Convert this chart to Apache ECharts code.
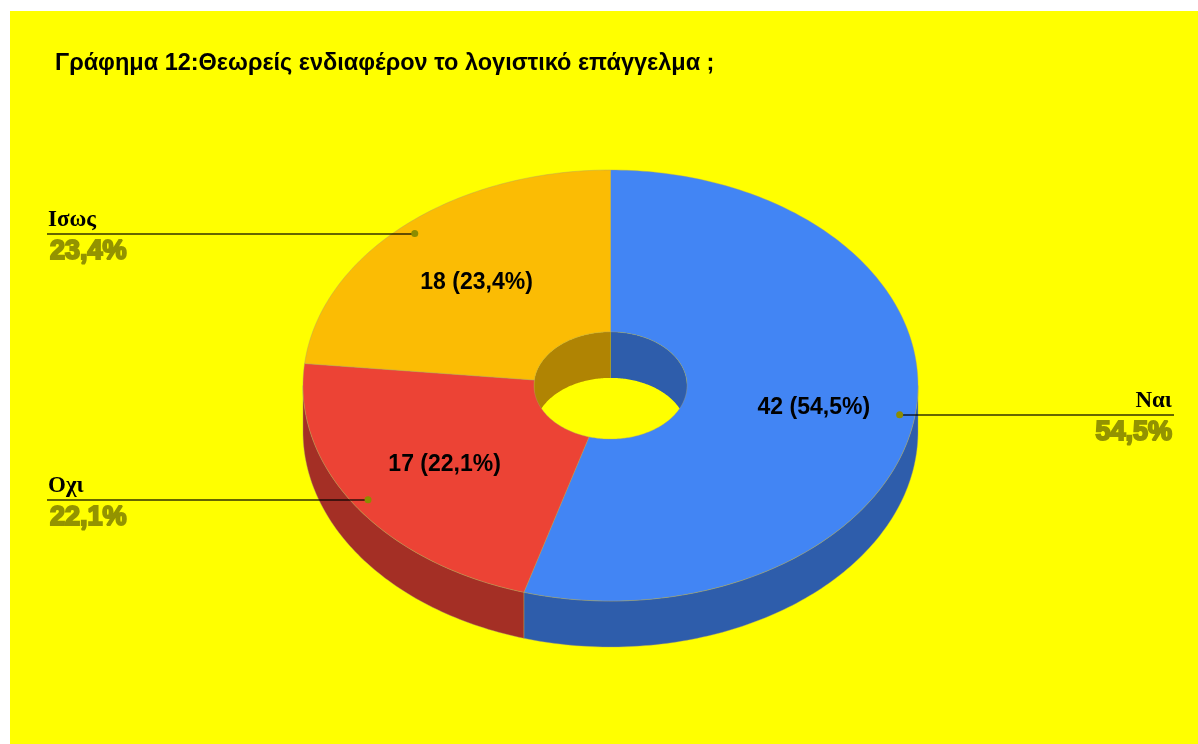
<!DOCTYPE html>
<html>
<head>
<meta charset="utf-8">
<style>html,body{margin:0;padding:0;background:#fff}#chart{width:1198px;height:744px}</style>
<script src="https://cdn.jsdelivr.net/npm/echarts@6/dist/echarts.min.js"></script>
</head>
<body>
<div id="chart"></div>
<script>
const titleText = 'Γράφημα 12:Θεωρείς ενδιαφέρον το λογιστικό επάγγελμα ;';
const categories = ['Ναι', 'Οχι', 'Ισως'];
const values = [42, 17, 18];
const percentLabels = ['54,5%', '22,1%', '23,4%'];

const topColors = ['#4285F4', '#EC4335', '#FBBC04'];
const sideColors = ['#2E5DAB', '#A42F25', '#B08403'];
const edge = 'rgba(170,160,110,0.4)';
const C = {cx: 610.5, cy: 385.5, rx: 307.5, ry: 215.5, depth: 46, hole: 0.2488};
const labelFrac = [0.668, 0.65, 0.65];
const dotFrac = 0.95;
const leaderEnd = [1174, 47, 47];
const total = values.reduce((a, b) => a + b, 0);
const starts = values.map((_, i) => values.slice(0, i).reduce((a, b) => a + b, 0) / total * 360);
const ends = values.map((_, i) => values.slice(0, i + 1).reduce((a, b) => a + b, 0) / total * 360);
const pt = (deg, f, dy) => {
  const a = deg * Math.PI / 180;
  return [C.cx + C.rx * f * Math.sin(a), C.cy - C.ry * f * Math.cos(a) + (dy || 0)];
};
const arc = (a0, a1, f, dy) => {
  const n = Math.max(2, Math.ceil(Math.abs(a1 - a0) / 1)), out = [];
  for (let k = 0; k <= n; k++) out.push(pt(a0 + (a1 - a0) * k / n, f, dy));
  return out;
};
const band = (a0, a1, f) => arc(a0, a1, f, 0).concat(arc(a1, a0, f, C.depth));
const overlap = (s, e, lo, hi) => { const a = Math.max(s, lo), b = Math.min(e, hi); return b > a ? [a, b] : null; };
const poly = (points, fill, z2) => ({type: 'polygon', z2, shape: {points}, style: {fill, stroke: edge, lineWidth: 1}});

function renderWalls(params, api) {
  const i = api.value(0), children = [];
  const outer = overlap(starts[i], ends[i], 90, 270);
  if (outer) children.push(poly(band(outer[0], outer[1], 1), sideColors[i], 1));
  [[0, 90], [270, 360]].forEach(r => {
    const inner = overlap(starts[i], ends[i], r[0], r[1]);
    if (inner) children.push({type: 'polygon', z2: 1, shape: {points: band(inner[0], inner[1], C.hole)}, style: {fill: sideColors[i]}});
  });
  return {type: 'group', children};
}
function renderFaces(params, api) {
  const i = api.value(0);
  const pts = arc(starts[i], ends[i], 1, 0).concat(arc(ends[i], starts[i], C.hole, 0));
  return poly(pts, topColors[i], 2);
}
function renderLabels(params, api) {
  const i = api.value(0);
  const mid = (starts[i] + ends[i]) / 2;
  const inside = pt(mid, labelFrac[i]);
  const dot = pt(mid, dotFrac);
  const xEnd = leaderEnd[i];
  const right = xEnd > C.cx;
  const textX = right ? xEnd - 2 : xEnd + 1;
  const line = Math.round(dot[1]);
  return {type: 'group', children: [
    {type: 'text', z2: 5, style: {text: values[i] + ' (' + percentLabels[i] + ')', x: inside[0], y: inside[1] + 1.5, align: 'center', verticalAlign: 'middle', fill: '#000', font: 'bold 23px "Liberation Sans"'}},
    {type: 'line', z2: 6, shape: {x1: dot[0], y1: line, x2: xEnd, y2: line}, style: {stroke: 'rgba(0,0,0,0.6)', lineWidth: 2}},
    {type: 'circle', z2: 7, shape: {cx: dot[0], cy: dot[1], r: 3.5}, style: {fill: '#8C8C00'}},
    {type: 'text', z2: 5, style: {text: categories[i], x: textX, y: line - 2, align: right ? 'right' : 'left', verticalAlign: 'bottom', fill: '#000', font: 'bold 23px "Liberation Serif"'}},
    {type: 'text', z2: 5, style: {text: percentLabels[i], x: right ? textX : textX + 2, y: line + 4, align: right ? 'right' : 'left', verticalAlign: 'top', fill: '#939300', stroke: '#939300', lineWidth: 2, font: 'bold 27px "Liberation Sans"'}}
  ]};
}
const seriesData = categories.map((c, i) => ({value: [i, values[i]], name: c}));
const chart = echarts.init(document.getElementById('chart'), null, {renderer: 'canvas'});
chart.setOption({
  animation: false,
  backgroundColor: '#ffffff',
  graphic: [{type: 'rect', z: -10, shape: {x: 10, y: 11, width: 1188, height: 733}, style: {fill: '#FFFF00'}}],
  title: {text: titleText, left: 55, top: 52, padding: 0, textStyle: {color: '#000', fontFamily: '"Liberation Sans"', fontWeight: 'bold', fontSize: 23.5}},
  tooltip: {show: false},
  series: [
    {type: 'custom', coordinateSystem: 'none', z: 2, silent: true, data: seriesData, renderItem: renderWalls},
    {type: 'custom', coordinateSystem: 'none', z: 3, silent: true, data: seriesData, renderItem: renderFaces},
    {type: 'custom', coordinateSystem: 'none', z: 4, silent: true, data: seriesData, renderItem: renderLabels}
  ]
});
</script>
</body>
</html>
